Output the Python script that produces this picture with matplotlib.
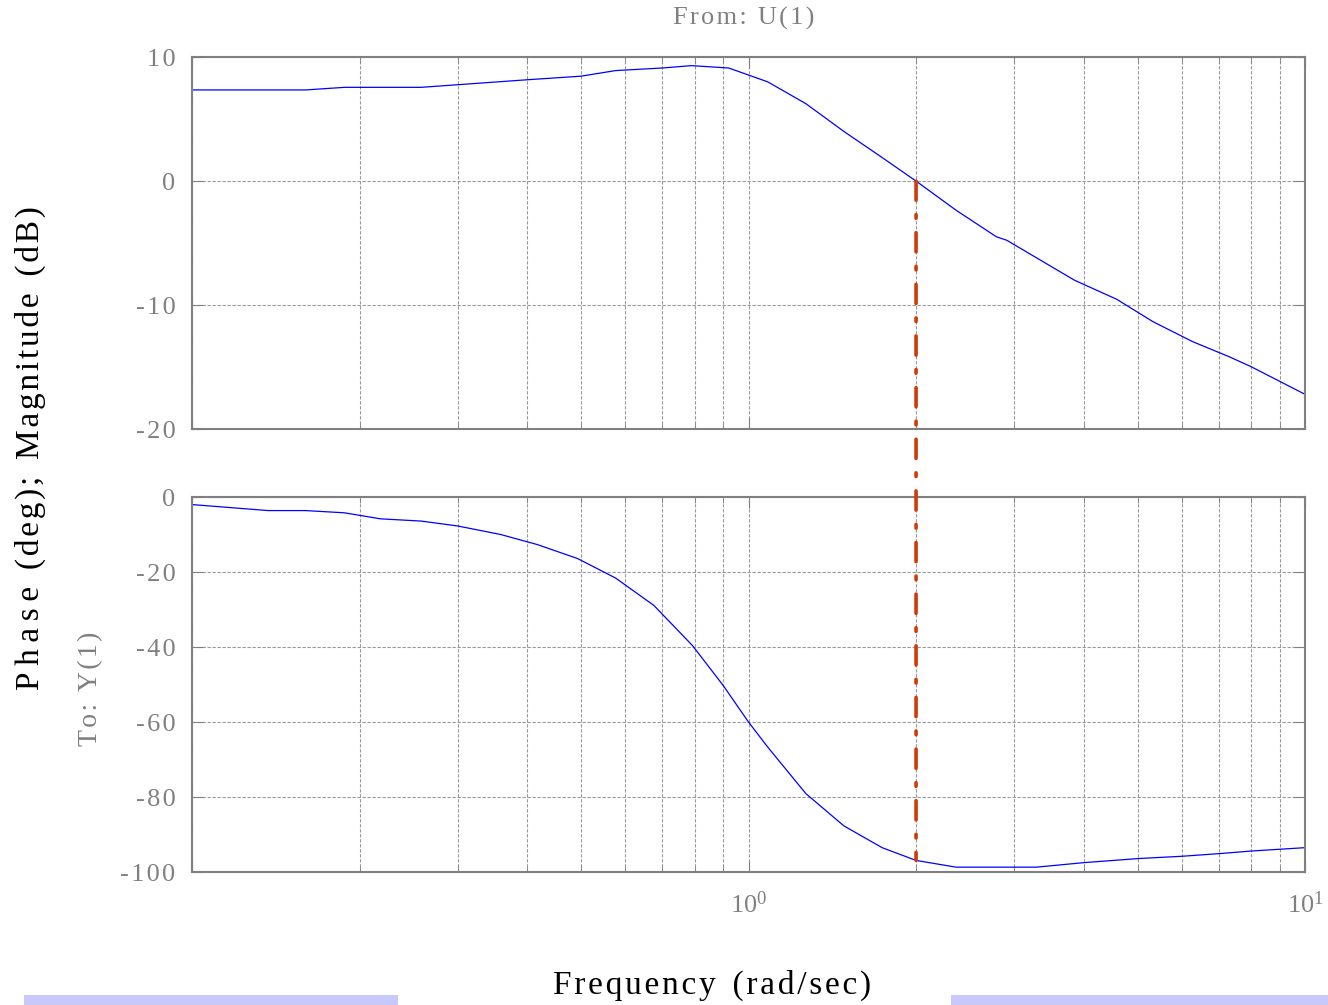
import numpy as np
import matplotlib
matplotlib.use('Agg')
import matplotlib.pyplot as plt
from matplotlib.patches import ConnectionPatch, Rectangle
from matplotlib.ticker import FixedLocator, NullFormatter

# ====== DATOS ======
mag_freq = [0.100, 0.160, 0.188, 0.258, 0.300, 0.400, 0.500, 0.577, 0.700,
            0.790, 0.921, 1.083, 1.268, 1.484, 1.738, 2.000, 2.360, 2.790,
            2.910, 3.850, 4.590, 5.330, 6.280, 7.300, 8.000, 10.00]
mag_db = [7.35, 7.35, 7.56, 7.56, 7.77, 8.17, 8.46, 8.91, 9.12,
          9.31, 9.12, 8.00, 6.24, 4.00, 1.90, 0.00, -2.35, -4.50,
          -4.77, -7.99, -9.54, -11.34, -12.95, -14.16, -14.97, -17.20]

phase_freq = [0.100, 0.137, 0.160, 0.188, 0.218, 0.258, 0.300, 0.359, 0.418,
              0.493, 0.577, 0.676, 0.793, 0.900, 1.000, 1.083, 1.268, 1.484,
              1.738, 2.000, 2.360, 3.290, 4.000, 5.020, 6.000, 7.000, 8.000,
              10.00]
phase_deg = [-2.0, -3.6, -3.6, -4.2, -5.8, -6.4, -7.7, -10.0, -12.7,
             -16.4, -21.6, -28.9, -39.6, -50.2, -60.0, -66.7, -79.1, -87.7,
             -93.5, -96.9, -98.7, -98.7, -97.5, -96.4, -95.8, -95.1, -94.4,
             -93.5]

crossover_freq = 2.0

mag_ticks = [-20, -10, 0, 10]
phase_ticks = [-100, -80, -60, -40, -20, 0]
freq_ticks = [0.1, 1, 10]
freq_labels = ['', '$10^0$', '$10^1$']

# ====== ESTILO ======
GRIS = '#808080'
SERIF = ['Liberation Serif', 'DejaVu Serif']
plt.rcParams['font.family'] = SERIF
plt.rcParams['mathtext.fontset'] = 'custom'
plt.rcParams['mathtext.rm'] = 'Liberation Serif'
plt.rcParams['mathtext.it'] = 'Liberation Serif'


def espaciado(txt, sep='\u200a'):
    # separa letras para imitar el texto espaciado del original
    return sep.join(txt)


fig = plt.figure(figsize=(13.28, 10.05), dpi=100)
ax1 = fig.add_axes([0.1446, 0.5731, 0.8381, 0.3701])
ax2 = fig.add_axes([0.1446, 0.1323, 0.8381, 0.3731])

minor = [m * 10.0 ** e for e in (-1, 0) for m in range(2, 10)]

for ax in (ax1, ax2):
    ax.set_xscale('log')
    ax.set_xlim(0.1, 10)
    ax.xaxis.set_major_locator(FixedLocator(freq_ticks))
    ax.xaxis.set_minor_locator(FixedLocator(minor))
    ax.xaxis.set_minor_formatter(NullFormatter())
    ax.grid(True, which='both', axis='x', color='#999999', lw=0.8,
            linestyle=(0, (3, 1.5)))
    ax.grid(True, which='major', axis='y', color='#999999', lw=0.8,
            linestyle=(0, (3, 1.5)))
    for s in ax.spines.values():
        s.set_color(GRIS)
        s.set_linewidth(1.5)
    ax.tick_params(which='both', direction='in', color=GRIS, labelcolor=GRIS,
                   labelsize=19, top=True, right=True)
    ax.tick_params(which='major', length=8)
    ax.tick_params(which='minor', length=4)
    ax.tick_params(axis='y', pad=12)

ax1.plot(mag_freq, mag_db, color='#0000ff', lw=0.9)
ax1.set_ylim(-20, 10)
ax1.set_yticks(mag_ticks)
ax1.set_yticklabels([espaciado(str(t)) for t in mag_ticks])
ax1.set_xticklabels([])

ax2.plot(phase_freq, phase_deg, color='#0000ff', lw=0.9)
ax2.set_ylim(-100, 0)
ax2.set_yticks(phase_ticks)
ax2.set_yticklabels([espaciado(str(t)) for t in phase_ticks])
ax2.set_xticklabels(freq_labels)
ax2.tick_params(axis='x', pad=14)

# linea de cruce de ganancia
mag_c = np.interp(crossover_freq, mag_freq, mag_db)
ph_c = np.interp(crossover_freq, phase_freq, phase_deg)
con = ConnectionPatch(xyA=(crossover_freq, mag_c), coordsA='data', axesA=ax1,
                      xyB=(crossover_freq, ph_c), coordsB='data', axesB=ax2,
                      color='#d03a08', lw=2.6,
                      linestyle=(0, (5.3, 4, 1, 4)), zorder=5)
fig.add_artist(con)

# textos
fig.text(0.0226, 0.554,
         espaciado('Phase', '\u2009') + '  ' + espaciado('(deg);')
         + '  ' + espaciado('Magnitude') + '  ' + espaciado('(dB)'),
         rotation=90, ha='center', va='center', fontsize=24, color='black')
fig.text(0.068, 0.315, espaciado('To: Y(1)'), rotation=90, ha='center',
         va='center', fontsize=20, color=GRIS)
fig.text(0.560, 0.982, espaciado('From: U(1)'), ha='center', va='center',
         fontsize=19, color=GRIS)
fig.text(0.536, 0.020,
         espaciado('Frequency') + '  ' + espaciado('(rad/sec)'),
         ha='center', va='center', fontsize=24, color='black')

# barras azules del borde inferior
for x0, x1 in ((24, 398), (951, 1328)):
    fig.patches.append(Rectangle((x0 / 1328, 0), (x1 - x0) / 1328, 10 / 1005,
                                 transform=fig.transFigure, color='#c8c8fc',
                                 lw=0, zorder=0))

fig.savefig('out.png', dpi=100)
